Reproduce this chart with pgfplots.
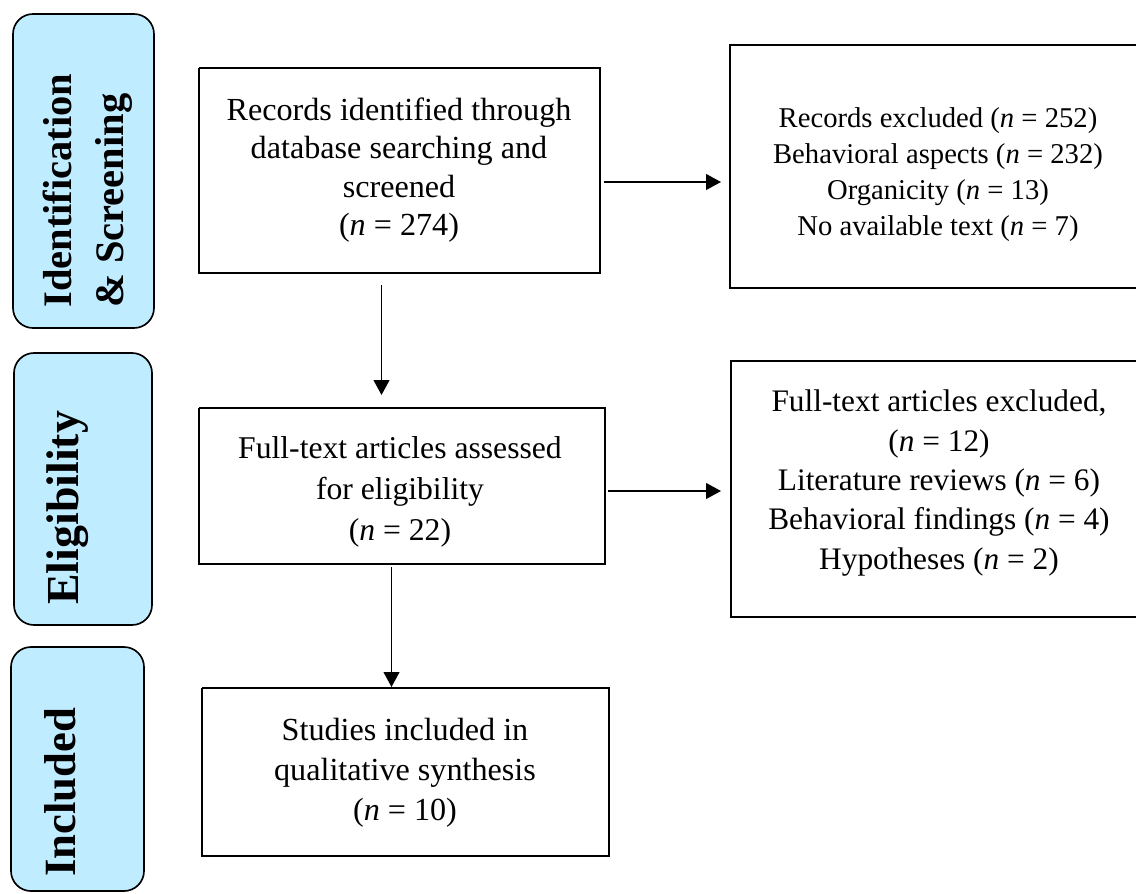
\documentclass[border=0pt]{standalone}
\usepackage{fontspec}
\setmainfont{Liberation Serif}
\usepackage{pgfplots}
\pgfplotsset{compat=1.18}
\usetikzlibrary{arrows.meta}
\definecolor{boxblue}{RGB}{192,236,255}
\begin{document}
\begin{tikzpicture}
\begin{axis}[
  at={(0,0)}, anchor=south west,
  width=681.6pt, height=535.8pt, scale only axis,
  xmin=0, xmax=1136, ymin=0, ymax=893, y dir=reverse,
  hide axis, clip=false,
]
% side panels
\addplot[draw=black, line width=1pt, fill=boxblue, rounded corners=12pt, mark=none]
  coordinates {(83,14) (154,14) (154,328) (13,328) (13,14) (83,14)};
\addplot[draw=black, line width=1pt, fill=boxblue, rounded corners=12pt, mark=none]
  coordinates {(83,353) (152,353) (152,625) (14,625) (14,353) (83,353)};
\addplot[draw=black, line width=1pt, fill=boxblue, rounded corners=12pt, mark=none]
  coordinates {(77,647) (144,647) (144,891) (11,891) (11,647) (77,647)};
% main boxes
\addplot[draw=black, line width=1pt, mark=none]
  coordinates {(199,68) (600,68) (600,273) (199,273) (199,68)};
\addplot[draw=black, line width=1pt, mark=none]
  coordinates {(1140,45) (730,45) (730,288) (1140,288)};
\addplot[draw=black, line width=1pt, mark=none]
  coordinates {(199,408) (605,408) (605,564) (199,564) (199,408)};
\addplot[draw=black, line width=1pt, mark=none]
  coordinates {(1140,361) (731,361) (731,617) (1140,617)};
\addplot[draw=black, line width=1pt, mark=none]
  coordinates {(202,688) (609,688) (609,856) (202,856) (202,688)};
% arrows
\addplot[black, line width=1pt, mark=none, -{Triangle[length=9pt,width=9.5pt]}]
  coordinates {(381.5,285) (381.5,395)};
\addplot[black, line width=1pt, mark=none, -{Triangle[length=9pt,width=9.5pt]}]
  coordinates {(604,182) (721,182)};
\addplot[black, line width=1pt, mark=none, -{Triangle[length=9pt,width=9.5pt]}]
  coordinates {(391.5,567) (391.5,687)};
\addplot[black, line width=1pt, mark=none, -{Triangle[length=9pt,width=9.5pt]}]
  coordinates {(608,491) (721,491)};
% side labels
\node[rotate=90, anchor=west, inner sep=0pt, align=left,
      font=\fontsize{24.3}{31}\selectfont\bfseries] at (axis cs:88,308)
  {Identification\\\& Screening};
\node[rotate=90, anchor=west, inner sep=0pt,
      font=\fontsize{27.5}{31}\selectfont\bfseries] at (axis cs:68,605)
  {Eligibility};
\node[rotate=90, anchor=west, inner sep=0pt,
      font=\fontsize{26.8}{31}\selectfont\bfseries] at (axis cs:60,877)
  {Included};
% box texts
\node[align=center, inner sep=0pt, font=\fontsize{19.3}{23}\selectfont] at (axis cs:399,170)
  {Records identified through\\database searching and\\screened\\(\textit{n} = 274)};
\node[align=center, inner sep=0pt, font=\fontsize{17.2}{21.6}\selectfont] at (axis cs:938,175)
  {Records excluded (\textit{n} = 252)\\Behavioral aspects (\textit{n} = 232)\\Organicity (\textit{n} = 13)\\No available text (\textit{n} = 7)};
\node[align=center, inner sep=0pt, font=\fontsize{19}{24.5}\selectfont] at (axis cs:400,492)
  {Full-text articles assessed\\for eligibility\\(\textit{n} = 22)};
\node[align=center, inner sep=0pt, font=\fontsize{18.8}{23.6}\selectfont] at (axis cs:939,483)
  {Full-text articles excluded,\\(\textit{n} = 12)\\Literature reviews (\textit{n} = 6)\\Behavioral findings (\textit{n} = 4)\\Hypotheses (\textit{n} = 2)};
\node[align=center, inner sep=0pt, font=\fontsize{19.3}{24}\selectfont] at (axis cs:405,773)
  {Studies included in\\qualitative synthesis\\(\textit{n} = 10)};
\end{axis}
\pgfresetboundingbox
\path (0,0) rectangle (681.6pt,535.8pt);
\end{tikzpicture}
\end{document}
